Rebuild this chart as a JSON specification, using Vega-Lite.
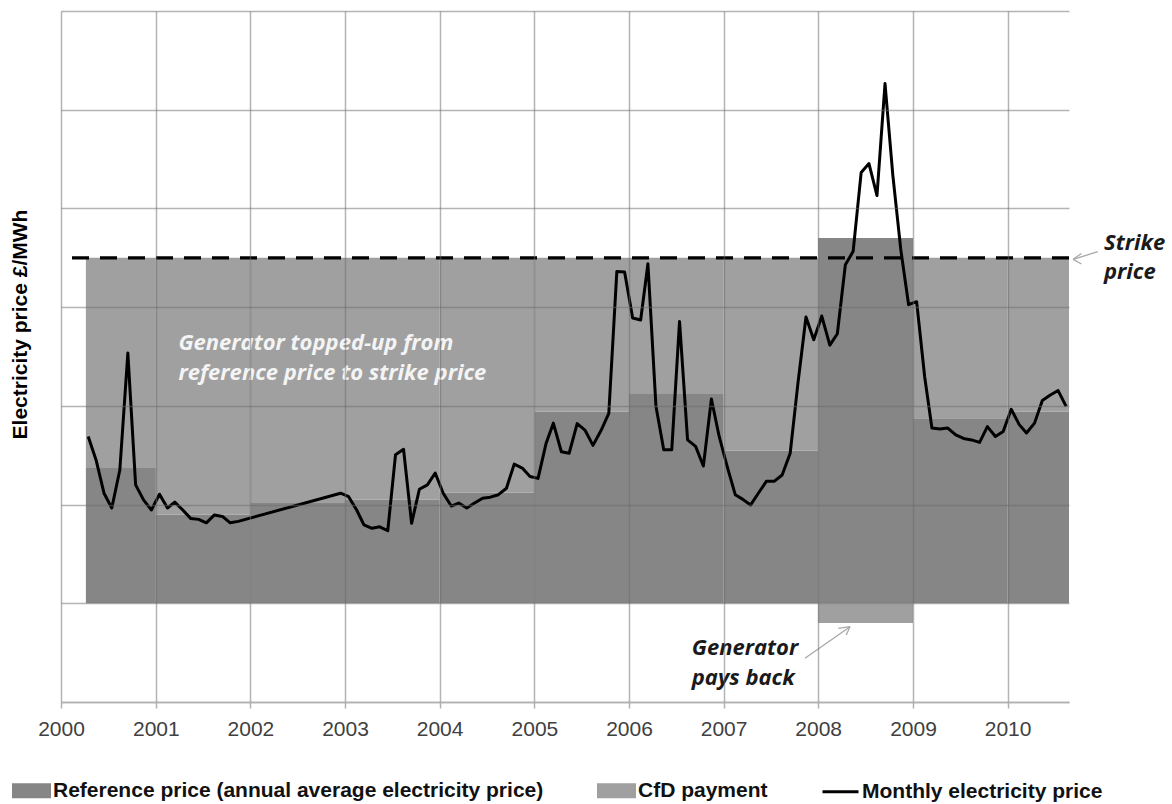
{
  "$schema": "https://vega.github.io/schema/vega-lite/v6.json",
  "width": 1008,
  "height": 691,
  "autosize": {"type": "none"},
  "padding": {"left": 61, "top": 11, "right": 103, "bottom": 102},
  "background": "white",
  "config": {"view": {"stroke": null}, "font": "Liberation Sans"},
  "datasets": {
    "bars": [
      {"start": "2000-04-06", "end": "2001-01-01", "lo": 20, "hi": 47.4, "series": "Reference price (annual average electricity price)"},
      {"start": "2000-04-06", "end": "2001-01-01", "lo": 47.4, "hi": 90, "series": "CfD payment"},
      {"start": "2001-01-01", "end": "2002-01-01", "lo": 20, "hi": 38.0, "series": "Reference price (annual average electricity price)"},
      {"start": "2001-01-01", "end": "2002-01-01", "lo": 38.0, "hi": 90, "series": "CfD payment"},
      {"start": "2002-01-01", "end": "2003-01-01", "lo": 20, "hi": 40.3, "series": "Reference price (annual average electricity price)"},
      {"start": "2002-01-01", "end": "2003-01-01", "lo": 40.3, "hi": 90, "series": "CfD payment"},
      {"start": "2003-01-01", "end": "2004-01-01", "lo": 20, "hi": 41.0, "series": "Reference price (annual average electricity price)"},
      {"start": "2003-01-01", "end": "2004-01-01", "lo": 41.0, "hi": 90, "series": "CfD payment"},
      {"start": "2004-01-01", "end": "2005-01-01", "lo": 20, "hi": 42.4, "series": "Reference price (annual average electricity price)"},
      {"start": "2004-01-01", "end": "2005-01-01", "lo": 42.4, "hi": 90, "series": "CfD payment"},
      {"start": "2005-01-01", "end": "2006-01-01", "lo": 20, "hi": 58.8, "series": "Reference price (annual average electricity price)"},
      {"start": "2005-01-01", "end": "2006-01-01", "lo": 58.8, "hi": 90, "series": "CfD payment"},
      {"start": "2006-01-01", "end": "2007-01-01", "lo": 20, "hi": 62.4, "series": "Reference price (annual average electricity price)"},
      {"start": "2006-01-01", "end": "2007-01-01", "lo": 62.4, "hi": 90, "series": "CfD payment"},
      {"start": "2007-01-01", "end": "2008-01-01", "lo": 20, "hi": 50.9, "series": "Reference price (annual average electricity price)"},
      {"start": "2007-01-01", "end": "2008-01-01", "lo": 50.9, "hi": 90, "series": "CfD payment"},
      {"start": "2008-01-01", "end": "2009-01-01", "lo": 20, "hi": 94.0, "series": "Reference price (annual average electricity price)"},
      {"start": "2008-01-01", "end": "2009-01-01", "lo": 16.0, "hi": 20, "series": "CfD payment"},
      {"start": "2009-01-01", "end": "2010-01-01", "lo": 20, "hi": 57.5, "series": "Reference price (annual average electricity price)"},
      {"start": "2009-01-01", "end": "2010-01-01", "lo": 57.5, "hi": 90, "series": "CfD payment"},
      {"start": "2010-01-01", "end": "2010-08-26", "lo": 20, "hi": 58.8, "series": "Reference price (annual average electricity price)"},
      {"start": "2010-01-01", "end": "2010-08-26", "lo": 58.8, "hi": 90, "series": "CfD payment"}
    ],
    "monthly": [
      {"date": "2000-04-15", "price": 53.8}, {"date": "2000-05-15", "price": 49.1}, {"date": "2000-06-15", "price": 42.3},
      {"date": "2000-07-15", "price": 39.3}, {"date": "2000-08-15", "price": 47.0}, {"date": "2000-09-15", "price": 70.7},
      {"date": "2000-10-15", "price": 44.0}, {"date": "2000-11-15", "price": 40.9}, {"date": "2000-12-15", "price": 38.9},
      {"date": "2001-01-15", "price": 42.1}, {"date": "2001-02-15", "price": 39.3}, {"date": "2001-03-15", "price": 40.5},
      {"date": "2001-04-15", "price": 38.9}, {"date": "2001-05-15", "price": 37.2}, {"date": "2001-06-15", "price": 37.0},
      {"date": "2001-07-15", "price": 36.3}, {"date": "2001-08-15", "price": 37.9}, {"date": "2001-09-15", "price": 37.6},
      {"date": "2001-10-15", "price": 36.3}, {"date": "2001-11-15", "price": 36.6},
      {"date": "2002-12-15", "price": 42.3},
      {"date": "2003-01-15", "price": 41.6}, {"date": "2003-02-15", "price": 38.9}, {"date": "2003-03-15", "price": 35.9},
      {"date": "2003-04-15", "price": 35.2}, {"date": "2003-05-15", "price": 35.5}, {"date": "2003-06-15", "price": 34.7},
      {"date": "2003-07-15", "price": 50.1}, {"date": "2003-08-15", "price": 51.2}, {"date": "2003-09-15", "price": 36.2},
      {"date": "2003-10-15", "price": 43.1}, {"date": "2003-11-15", "price": 44.0}, {"date": "2003-12-15", "price": 46.4},
      {"date": "2004-01-15", "price": 42.3}, {"date": "2004-02-15", "price": 39.7}, {"date": "2004-03-15", "price": 40.3},
      {"date": "2004-04-15", "price": 39.3}, {"date": "2004-05-15", "price": 40.3}, {"date": "2004-06-15", "price": 41.3},
      {"date": "2004-07-15", "price": 41.5}, {"date": "2004-08-15", "price": 42.0}, {"date": "2004-09-15", "price": 43.3},
      {"date": "2004-10-15", "price": 48.2}, {"date": "2004-11-15", "price": 47.4}, {"date": "2004-12-15", "price": 45.7},
      {"date": "2005-01-15", "price": 45.3}, {"date": "2005-02-15", "price": 52.4}, {"date": "2005-03-15", "price": 56.5},
      {"date": "2005-04-15", "price": 50.7}, {"date": "2005-05-15", "price": 50.4}, {"date": "2005-06-15", "price": 56.4},
      {"date": "2005-07-15", "price": 55.1}, {"date": "2005-08-15", "price": 52.0}, {"date": "2005-09-15", "price": 55.0},
      {"date": "2005-10-15", "price": 58.5}, {"date": "2005-11-15", "price": 87.2}, {"date": "2005-12-15", "price": 87.1},
      {"date": "2006-01-15", "price": 77.8}, {"date": "2006-02-15", "price": 77.4}, {"date": "2006-03-15", "price": 88.8},
      {"date": "2006-04-15", "price": 59.9}, {"date": "2006-05-15", "price": 51.1}, {"date": "2006-06-15", "price": 51.1},
      {"date": "2006-07-15", "price": 77.1}, {"date": "2006-08-15", "price": 53.1}, {"date": "2006-09-15", "price": 51.8},
      {"date": "2006-10-15", "price": 47.8}, {"date": "2006-11-15", "price": 61.4}, {"date": "2006-12-15", "price": 53.8},
      {"date": "2007-01-15", "price": 47.7}, {"date": "2007-02-15", "price": 42.0}, {"date": "2007-03-15", "price": 41.1},
      {"date": "2007-04-15", "price": 39.9}, {"date": "2007-05-15", "price": 42.3}, {"date": "2007-06-15", "price": 44.7},
      {"date": "2007-07-15", "price": 44.7}, {"date": "2007-08-15", "price": 46.0}, {"date": "2007-09-15", "price": 50.4},
      {"date": "2007-10-15", "price": 64.6}, {"date": "2007-11-15", "price": 78.0}, {"date": "2007-12-15", "price": 73.4},
      {"date": "2008-01-15", "price": 78.2}, {"date": "2008-02-15", "price": 72.3}, {"date": "2008-03-15", "price": 74.6},
      {"date": "2008-04-15", "price": 88.6}, {"date": "2008-05-15", "price": 91.3}, {"date": "2008-06-15", "price": 107.3},
      {"date": "2008-07-15", "price": 109.1}, {"date": "2008-08-15", "price": 102.6}, {"date": "2008-09-15", "price": 125.3},
      {"date": "2008-10-15", "price": 106.8}, {"date": "2008-11-15", "price": 91.6}, {"date": "2008-12-15", "price": 80.5},
      {"date": "2009-01-15", "price": 81.1}, {"date": "2009-02-15", "price": 65.9}, {"date": "2009-03-15", "price": 55.5},
      {"date": "2009-04-15", "price": 55.3}, {"date": "2009-05-15", "price": 55.5}, {"date": "2009-06-15", "price": 54.1},
      {"date": "2009-07-15", "price": 53.4}, {"date": "2009-08-15", "price": 53.1}, {"date": "2009-09-15", "price": 52.6},
      {"date": "2009-10-15", "price": 55.8}, {"date": "2009-11-15", "price": 53.8}, {"date": "2009-12-15", "price": 54.8},
      {"date": "2010-01-15", "price": 59.3}, {"date": "2010-02-15", "price": 56.2}, {"date": "2010-03-15", "price": 54.5},
      {"date": "2010-04-15", "price": 56.5}, {"date": "2010-05-15", "price": 61.1}, {"date": "2010-06-15", "price": 62.2},
      {"date": "2010-07-15", "price": 63.1}, {"date": "2010-08-15", "price": 59.9}
    ],
    "strike": [{"strike": 90}],
    "arrows": [
      {"d1": "2007-11-11", "v1": 8.85, "d2": "2008-05-03", "v2": 15.26},
      {"d1": "2008-03-19", "v1": 14.93, "d2": "2008-05-03", "v2": 15.26},
      {"d1": "2008-04-18", "v1": 13.57, "d2": "2008-05-03", "v2": 15.26},
      {"d1": "2010-12-15", "v1": 91.23, "d2": "2010-09-11", "v2": 89.69},
      {"d1": "2010-10-13", "v1": 90.87, "d2": "2010-09-11", "v2": 89.69},
      {"d1": "2010-10-13", "v1": 88.74, "d2": "2010-09-11", "v2": 89.69}
    ],
    "notesWhite": [
      {"d": "2001-03-29", "v": 72.8, "t": "Generator topped-up from"},
      {"d": "2001-03-29", "v": 66.7, "t": "reference price to strike price"}
    ],
    "notesDark": [
      {"d": "2006-08-31", "v": 10.95, "t": "Generator"},
      {"d": "2006-08-31", "v": 4.87, "t": "pays back"},
      {"d": "2011-01-08", "v": 93.0, "t": "Strike"},
      {"d": "2011-01-08", "v": 87.2, "t": "price"}
    ]
  },
  "layer": [
    {
      "data": {"name": "bars"},
      "mark": {"type": "rect"},
      "encoding": {
        "x": {
          "field": "start", "type": "temporal",
          "scale": {"type": "utc", "domain": [{"year": 2000, "month": 1, "date": 1, "utc": true}, {"year": 2010, "month": 8, "date": 26, "utc": true}]},
          "axis": {
            "title": null, "format": "%Y", "tickCount": {"interval": "year", "step": 1},
            "grid": true, "gridColor": "#6a6a6a", "gridOpacity": 0.5, "gridWidth": 1.5,
            "domainColor": "#b0b0b0", "domainWidth": 1.5, "tickColor": "#b0b0b0", "tickWidth": 1.5, "tickSize": 6,
            "labelFont": "Liberation Sans", "labelFontSize": 21, "labelColor": "#404040", "labelPadding": 10,
            "labelFlush": false, "labelOverlap": false, "zindex": 1
          }
        },
        "x2": {"field": "end"},
        "y": {
          "field": "lo", "type": "quantitative",
          "scale": {"domain": [0, 140], "nice": false, "zero": false},
          "axis": {
            "values": [0, 20, 40, 60, 80, 100, 120, 140], "labels": false, "ticks": false, "domain": false,
            "grid": true, "gridColor": "#6a6a6a", "gridOpacity": 0.5, "gridWidth": 1.5,
            "title": "Electricity price £/MWh", "titleFont": "Liberation Sans", "titleFontSize": 21, "titleFontWeight": "bold",
            "titleColor": "#000000", "titleAngle": 270, "titleX": -41, "titleY": 313, "titleBaseline": "middle", "titleAlign": "center",
            "zindex": 1
          }
        },
        "y2": {"field": "hi"},
        "color": {
          "field": "series", "type": "nominal",
          "scale": {
            "domain": ["Reference price (annual average electricity price)", "CfD payment", "Monthly electricity price"],
            "range": ["#868686", "#a0a0a0", "#000000"]
          },
          "legend": {
            "title": null, "orient": "none", "legendX": -49, "legendY": 760, "direction": "horizontal",
            "labelFont": "Liberation Sans", "labelFontWeight": "bold", "labelFontSize": 21, "labelColor": "#111111",
            "labelLimit": 800, "columnPadding": 48, "symbolSize": 1296, "labelOffset": 2,
            "encode": {
              "symbols": {
                "update": {
                  "shape": {"signal": "datum.value === 'Monthly electricity price' ? 'M-1,0H1' : 'M-1,-0.33H1V0.33H-1Z'"},
                  "fill": {"signal": "datum.value === 'Monthly electricity price' ? 'transparent' : scale('color', datum.value)"},
                  "stroke": {"signal": "datum.value === 'Monthly electricity price' ? '#000000' : 'transparent'"},
                  "strokeWidth": {"value": 3},
                  "opacity": {"value": 1}
                }
              }
            }
          }
        }
      }
    },
    {
      "data": {"name": "strike"},
      "mark": {"type": "rule", "color": "#000000", "strokeWidth": 3.2, "strokeDash": [17, 11]},
      "encoding": {"y": {"field": "strike", "type": "quantitative"}}
    },
    {
      "data": {"name": "monthly"},
      "mark": {"type": "line", "strokeWidth": 3, "strokeJoin": "round"},
      "encoding": {
        "x": {"field": "date", "type": "temporal"},
        "y": {"field": "price", "type": "quantitative"},
        "color": {"datum": "Monthly electricity price", "type": "nominal"}
      }
    },
    {
      "data": {"name": "arrows"},
      "mark": {"type": "rule", "color": "#a8a8a8", "strokeWidth": 1.3},
      "encoding": {
        "x": {"field": "d1", "type": "temporal"},
        "x2": {"field": "d2"},
        "y": {"field": "v1", "type": "quantitative"},
        "y2": {"field": "v2"}
      }
    },
    {
      "data": {"name": "notesWhite"},
      "mark": {"type": "text", "align": "left", "baseline": "middle", "font": "Open Sans", "fontStyle": "italic", "fontWeight": "bold", "fontSize": 22, "color": "#f4f4f4"},
      "encoding": {
        "x": {"field": "d", "type": "temporal"},
        "y": {"field": "v", "type": "quantitative"},
        "text": {"field": "t"}
      }
    },
    {
      "data": {"name": "notesDark"},
      "mark": {"type": "text", "align": "left", "baseline": "middle", "font": "Open Sans", "fontStyle": "italic", "fontWeight": "bold", "fontSize": 22, "color": "#1a1a1a"},
      "encoding": {
        "x": {"field": "d", "type": "temporal"},
        "y": {"field": "v", "type": "quantitative"},
        "text": {"field": "t"}
      }
    }
  ]
}
